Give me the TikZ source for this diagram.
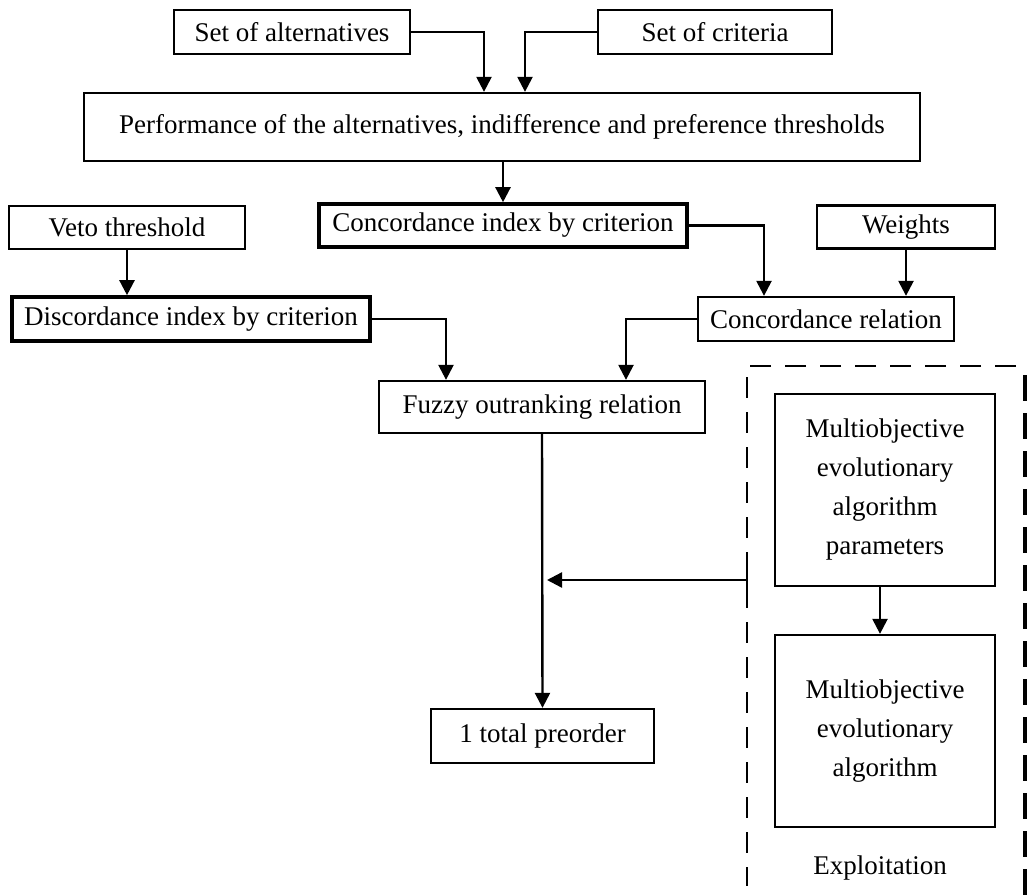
\documentclass[tikz,border=0pt]{standalone}
\usepackage{fontspec}
\setmainfont{Liberation Serif}
\usetikzlibrary{arrows.meta,calc}
\begin{document}
\begin{tikzpicture}[x=1pt,y=-1pt,
  box/.style={draw=black,line width=2.3pt,inner sep=0pt,align=center,
    font=\fontsize{27}{39}\selectfont},
  thickbox/.style={box,line width=3.6pt},
  arr/.style={line width=2.4pt,-{Triangle[width=15pt,length=15pt]}},
  lbl/.style={inner sep=0pt,font=\fontsize{27}{39}\selectfont}]
\useasboundingbox (0,0) rectangle (1028,896);
\node[box,minimum width=236pt,minimum height=44pt] (alt) at (292,32) {Set of alternatives};
\node[box,minimum width=234pt,minimum height=44pt] (crit) at (715,32) {Set of criteria};
\node[box,minimum width=836pt,minimum height=68pt] (perf) at (502,127) {Performance of the alternatives, indifference and preference thresholds};
\node[thickbox,minimum width=368pt,minimum height=43pt] (cidx) at (503,225.5) {Concordance index by criterion};
\node[box,minimum width=236pt,minimum height=43pt] (veto) at (127,227.5) {Veto threshold};
\node[box,minimum width=178pt,minimum height=43pt] (wts) at (906,227) {Weights};
\node[thickbox,minimum width=358pt,minimum height=44pt] (disc) at (191,319) {Discordance index by criterion};
\node[box,minimum width=256pt,minimum height=44pt] (crel) at (826,319) {Concordance relation};
\node[box,minimum width=326pt,minimum height=52pt] (fuzzy) at (542,407) {Fuzzy outranking relation};
\node[box,minimum width=223pt,minimum height=54pt] (tpo) at (542.5,736) {1 total preorder};
\node[box,minimum width=220pt,minimum height=192pt] (params) at (885,490) {Multiobjective\\evolutionary\\algorithm\\parameters};
\node[box,minimum width=220pt,minimum height=192pt] (moea) at (885,731) {Multiobjective\\evolutionary\\algorithm};
\node[lbl] (expl) at (880,868) {Exploitation};
% dashed frame
\draw[line width=2.2pt,dash pattern=on 21pt off 14pt] (1016,366) -- (747,366) -- (747,886);
\draw[line width=4pt,dash pattern=on 26pt off 12pt] (1025,375) -- (1025,896);
\coordinate (src) at (747,580);
\coordinate (junc) at (542,580);
\draw[line width=2.2pt] (747,568) -- (747,592);
% connectors
\draw[arr] (alt.east) -| ([xshift=-18pt]perf.north);
\draw[arr] (crit.west) -| ([xshift=23pt]perf.north);
\draw[arr] (perf.south -| cidx.north) -- (cidx.north);
\draw[arr] (cidx.east) -| ([xshift=-62pt]crel.north);
\draw[arr] (wts.south) -- (wts.south |- crel.north);
\draw[arr] (veto.south) -- (veto.south |- disc.north);
\draw[arr] (disc.east) -| ([xshift=-96pt]fuzzy.north);
\draw[arr] (crel.west) -| ([xshift=84pt]fuzzy.north);
\draw[arr] (fuzzy.south) -- (tpo.north);
\draw[arr] (src) -- ([xshift=5pt]junc);
\draw[arr] ([xshift=-5pt]params.south) -- ([xshift=-5pt]moea.north);
\end{tikzpicture}
\end{document}
